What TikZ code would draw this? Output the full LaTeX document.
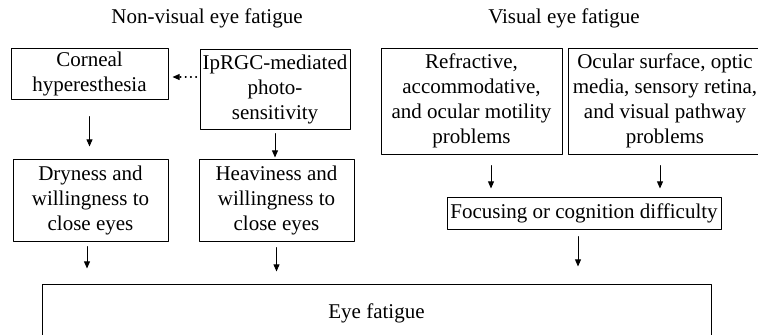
\documentclass[tikz,border=0pt]{standalone}
\usepackage{fontspec}
\setmainfont{Liberation Serif}
\usetikzlibrary{arrows.meta}
\tikzset{
	box/.style={draw,line width=0.5pt,align=center,inner sep=0pt,font=\fontsize{10.5}{12.5}\selectfont},
	heading/.style={font=\fontsize{10.5}{12.5}\selectfont},
	down/.style={->,line width=0.5pt},
}

\begin{document}
\begin{tikzpicture}[line cap=round,line join=round,>={Triangle[length=3.6pt,width=3pt]},x=0.5pt,y=-0.5pt]
	\useasboundingbox (0,0) rectangle (758,334);
	\clip (0,0) rectangle (758,334);
	% headings
	\node[heading] (nonvisual) at (207,18) {Non-visual eye fatigue};
	\node[heading] (visual) at (564,18) {Visual eye fatigue};
	% upper boxes
	\node[box,minimum width=78.5pt,minimum height=25.5pt] (corneal) at (89.5,73.5) {Corneal\\hyperesthesia};
	\node[box,minimum width=75pt,minimum height=40pt] (iprgc) at (275,89) {IpRGC-mediated\\photo-\\sensitivity};
	\node[box,minimum width=90.5pt,minimum height=53pt] (refractive) at (471.5,101) {Refractive,\\accommodative,\\and ocular motility\\problems};
	\node[box,minimum width=97pt,minimum height=53pt] (ocular) at (665,101) {Ocular surface, optic\\media, sensory retina,\\and visual pathway\\problems};
	% middle boxes
	\node[box,minimum width=77.5pt,minimum height=41pt] (dryness) at (90.5,200) {Dryness and\\willingness to\\close eyes};
	\node[box,minimum width=77.5pt,minimum height=41pt] (heaviness) at (276.5,200) {Heaviness and\\willingness to\\close eyes};
	\node[box,minimum width=137pt,minimum height=16pt] (focusing) at (584,213) {Focusing or cognition difficulty};
	% bottom box
	\node[box,minimum width=334.5pt,minimum height=29pt] (eyefatigue) at (376.5,313) {Eye fatigue};
	% arrows
	\draw[->,line width=0.6pt,dash pattern=on 0.4pt off 2.2pt,shorten <=1.5pt,shorten >=2pt] ([yshift=6pt]iprgc.west) -- ([yshift=6pt]iprgc.west -| corneal.east);
	\draw[down,shorten <=8.5pt,shorten >=6pt] (corneal.south) -- (corneal.south |- dryness.north);
	\draw[down,shorten <=2pt,shorten >=0.5pt] (iprgc.south) -- (iprgc.south |- heaviness.north);
	\draw[down,shorten <=2.5pt,shorten >=7.5pt] ([xshift=-1.75pt]dryness.south) -- ([xshift=-1.75pt]dryness.south |- eyefatigue.north);
	\draw[down,shorten <=3pt,shorten >=6pt] (heaviness.south) -- (heaviness.south |- eyefatigue.north);
	\draw[down,shorten <=5.5pt,shorten >=4pt] ([xshift=9.75pt]refractive.south) -- ([xshift=9.75pt]refractive.south |- focusing.north);
	\draw[down,shorten <=5.5pt,shorten >=4pt] ([xshift=-2.5pt]ocular.south) -- ([xshift=-2.5pt]ocular.south |- focusing.north);
	\draw[down,shorten <=3.5pt,shorten >=8.5pt] ([xshift=-3pt]focusing.south) -- ([xshift=-3pt]focusing.south |- eyefatigue.north);
\end{tikzpicture}
\end{document}
